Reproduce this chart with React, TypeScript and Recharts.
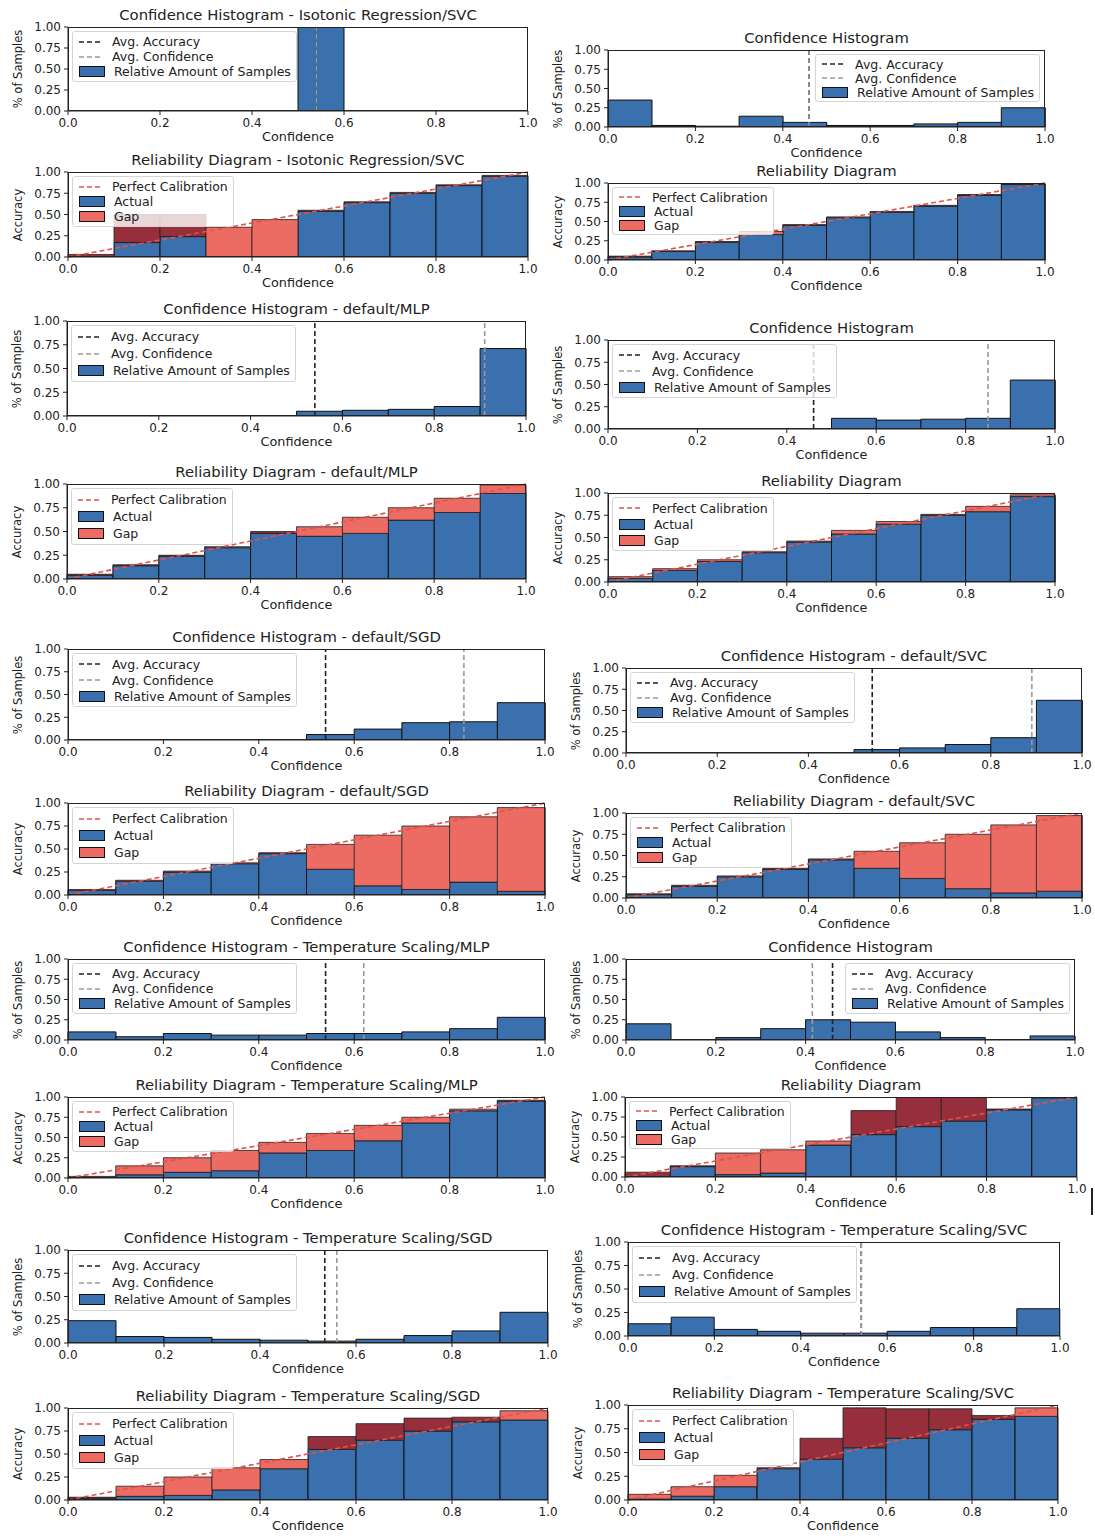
import React from "react";
import { ComposedChart, Bar, Cell, XAxis, YAxis, ReferenceLine } from "recharts";

// ---- shared axis data ----
const bins = ["0.0", "0.1", "0.2", "0.3", "0.4", "0.5", "0.6", "0.7", "0.8", "0.9"];
const binCenters = [0.05, 0.15, 0.25, 0.35, 0.45, 0.55, 0.65, 0.75, 0.85, 0.95];
const xTicks = [0, 0.2, 0.4, 0.6, 0.8, 1.0];
const yTicks = [0, 0.25, 0.5, 0.75, 1.0];

// ---- confidence histograms (relative amount of samples per bin) ----
const histIsoSvcSamples = [0, 0, 0, 0, 0, 1.0, 0, 0, 0, 0];
const histIsoSvcAcc = 0.54;
const histIsoSvcConf = 0.54;

const histPlain1Samples = [0.35, 0.02, 0.01, 0.14, 0.06, 0.02, 0.02, 0.04, 0.06, 0.25];
const histPlain1Acc = 0.46;
const histPlain1Conf = 0.46;

const histDefMlpSamples = [0, 0, 0, 0, 0, 0.05, 0.06, 0.07, 0.1, 0.71];
const histDefMlpAcc = 0.54;
const histDefMlpConf = 0.91;

const histPlain2Samples = [0, 0, 0, 0, 0, 0.12, 0.1, 0.11, 0.12, 0.55];
const histPlain2Acc = 0.46;
const histPlain2Conf = 0.85;

const histDefSgdSamples = [0, 0, 0, 0, 0, 0.06, 0.12, 0.19, 0.2, 0.41];
const histDefSgdAcc = 0.54;
const histDefSgdConf = 0.83;

const histDefSvcSamples = [0, 0, 0, 0, 0, 0.04, 0.06, 0.1, 0.18, 0.62];
const histDefSvcAcc = 0.54;
const histDefSvcConf = 0.89;

const histTsMlpSamples = [0.1, 0.04, 0.08, 0.06, 0.06, 0.08, 0.08, 0.1, 0.14, 0.28];
const histTsMlpAcc = 0.54;
const histTsMlpConf = 0.62;

const histPlain3Samples = [0.2, 0, 0.03, 0.14, 0.25, 0.22, 0.1, 0.03, 0, 0.05];
const histPlain3Acc = 0.46;
const histPlain3Conf = 0.415;

const histTsSgdSamples = [0.24, 0.07, 0.06, 0.04, 0.03, 0.02, 0.04, 0.08, 0.13, 0.33];
const histTsSgdAcc = 0.535;
const histTsSgdConf = 0.56;

const histTsSvcSamples = [0.13, 0.2, 0.07, 0.05, 0.03, 0.03, 0.05, 0.09, 0.09, 0.29];
const histTsSvcAcc = 0.54;
const histTsSvcConf = 0.54;

// ---- reliability diagrams (accuracy and mean confidence per bin) ----
const relIsoSvcAcc = [0.03, 0.5, 0.5, 0, 0, 0.54, 0.64, 0.75, 0.84, 0.95];
const relIsoSvcConf = [0.0, 0.17, 0.24, 0.35, 0.44, 0.55, 0.65, 0.76, 0.85, 0.96];

const relPlain1Acc = [0.05, 0.11, 0.23, 0.33, 0.45, 0.55, 0.62, 0.7, 0.85, 0.99];
const relPlain1Conf = [0.04, 0.12, 0.24, 0.37, 0.46, 0.56, 0.63, 0.71, 0.84, 0.98];

const relDefMlpAcc = [0.05, 0.15, 0.25, 0.33, 0.5, 0.45, 0.48, 0.62, 0.7, 0.9];
const relDefMlpConf = [0.04, 0.14, 0.24, 0.34, 0.48, 0.55, 0.65, 0.75, 0.85, 0.99];

const relPlain2Acc = [0.04, 0.13, 0.23, 0.33, 0.45, 0.54, 0.65, 0.75, 0.79, 0.96];
const relPlain2Conf = [0.06, 0.15, 0.25, 0.34, 0.46, 0.58, 0.68, 0.76, 0.85, 0.98];

const relDefSgdAcc = [0.05, 0.15, 0.25, 0.34, 0.45, 0.28, 0.1, 0.06, 0.14, 0.04];
const relDefSgdConf = [0.06, 0.16, 0.26, 0.35, 0.46, 0.55, 0.65, 0.75, 0.85, 0.95];

const relDefSvcAcc = [0.04, 0.14, 0.25, 0.34, 0.45, 0.35, 0.23, 0.11, 0.06, 0.08];
const relDefSvcConf = [0.05, 0.15, 0.26, 0.35, 0.46, 0.55, 0.65, 0.75, 0.86, 0.97];

const relTsMlpAcc = [0.01, 0.04, 0.07, 0.09, 0.31, 0.34, 0.46, 0.68, 0.83, 0.95];
const relTsMlpConf = [0.02, 0.15, 0.25, 0.34, 0.44, 0.55, 0.65, 0.75, 0.85, 0.96];

const relPlain3Acc = [0.06, 0.14, 0.03, 0.05, 0.4, 0.83, 1.0, 1.0, 0.85, 1.0];
const relPlain3Conf = [0.0, 0.13, 0.3, 0.34, 0.45, 0.53, 0.63, 0.7, 0.84, 0.99];

const relTsSgdAcc = [0.03, 0.04, 0.05, 0.11, 0.34, 0.69, 0.83, 0.89, 0.9, 0.87];
const relTsSgdConf = [0.02, 0.15, 0.25, 0.35, 0.44, 0.55, 0.65, 0.75, 0.85, 0.97];

const relTsSvcAcc = [0.01, 0.04, 0.14, 0.33, 0.65, 0.97, 0.96, 0.96, 0.89, 0.88];
const relTsSvcConf = [0.06, 0.14, 0.26, 0.34, 0.43, 0.55, 0.65, 0.74, 0.85, 0.97];

// ---- styling ----
const BLUE = "#3a70ad";
const SALMON = "#ec6b63";
const DARK_RED = "#962e3b";
const DIAG = "#e0534a";
const FONT = "'DejaVu Sans', 'Noto Sans', sans-serif";
const INK = "#222";

const L = 50; // space left of plot (y label + y ticks)
const R = 14;
const T = 9; // room above plot so the "1.00" tick label is not clipped
const B = 22; // x tick band

type LegendItem = { label: string; kind: "line" | "patch"; color: string };

const histLegend: LegendItem[] = [
  { label: "Avg. Accuracy", kind: "line", color: "#222" },
  { label: "Avg. Confidence", kind: "line", color: "#9a9a9a" },
  { label: "Relative Amount of Samples", kind: "patch", color: BLUE },
];
const relLegend: LegendItem[] = [
  { label: "Perfect Calibration", kind: "line", color: DIAG },
  { label: "Actual", kind: "patch", color: BLUE },
  { label: "Gap", kind: "patch", color: SALMON },
];

type Panel = {
  kind: "hist" | "rel";
  title: string;
  x0: number;
  y0: number;
  x1: number;
  y1: number;
  legend?: "left" | "right";
  samples?: number[];
  avgAcc?: number;
  avgConf?: number;
  acc?: number[];
  conf?: number[];
};

const panels: Panel[] = [
  { kind: "hist", title: "Confidence Histogram - Isotonic Regression/SVC", x0: 68, y0: 27, x1: 528, y1: 111, samples: histIsoSvcSamples, avgAcc: histIsoSvcAcc, avgConf: histIsoSvcConf },
  { kind: "hist", title: "Confidence Histogram", x0: 608, y0: 50, x1: 1045, y1: 127, legend: "right", samples: histPlain1Samples, avgAcc: histPlain1Acc, avgConf: histPlain1Conf },
  { kind: "rel", title: "Reliability Diagram - Isotonic Regression/SVC", x0: 68, y0: 172, x1: 528, y1: 257, acc: relIsoSvcAcc, conf: relIsoSvcConf },
  { kind: "rel", title: "Reliability Diagram", x0: 608, y0: 183, x1: 1045, y1: 260, acc: relPlain1Acc, conf: relPlain1Conf },
  { kind: "hist", title: "Confidence Histogram - default/MLP", x0: 67, y0: 321, x1: 526, y1: 416, samples: histDefMlpSamples, avgAcc: histDefMlpAcc, avgConf: histDefMlpConf },
  { kind: "hist", title: "Confidence Histogram", x0: 608, y0: 340, x1: 1055, y1: 429, samples: histPlain2Samples, avgAcc: histPlain2Acc, avgConf: histPlain2Conf },
  { kind: "rel", title: "Reliability Diagram - default/MLP", x0: 67, y0: 484, x1: 526, y1: 579, acc: relDefMlpAcc, conf: relDefMlpConf },
  { kind: "rel", title: "Reliability Diagram", x0: 608, y0: 493, x1: 1055, y1: 582, acc: relPlain2Acc, conf: relPlain2Conf },
  { kind: "hist", title: "Confidence Histogram - default/SGD", x0: 68, y0: 649, x1: 545, y1: 740, samples: histDefSgdSamples, avgAcc: histDefSgdAcc, avgConf: histDefSgdConf },
  { kind: "hist", title: "Confidence Histogram - default/SVC", x0: 626, y0: 668, x1: 1082, y1: 753, samples: histDefSvcSamples, avgAcc: histDefSvcAcc, avgConf: histDefSvcConf },
  { kind: "rel", title: "Reliability Diagram - default/SGD", x0: 68, y0: 803, x1: 545, y1: 895, acc: relDefSgdAcc, conf: relDefSgdConf },
  { kind: "rel", title: "Reliability Diagram - default/SVC", x0: 626, y0: 813, x1: 1082, y1: 898, acc: relDefSvcAcc, conf: relDefSvcConf },
  { kind: "hist", title: "Confidence Histogram - Temperature Scaling/MLP", x0: 68, y0: 959, x1: 545, y1: 1040, samples: histTsMlpSamples, avgAcc: histTsMlpAcc, avgConf: histTsMlpConf },
  { kind: "hist", title: "Confidence Histogram", x0: 626, y0: 959, x1: 1075, y1: 1040, legend: "right", samples: histPlain3Samples, avgAcc: histPlain3Acc, avgConf: histPlain3Conf },
  { kind: "rel", title: "Reliability Diagram - Temperature Scaling/MLP", x0: 68, y0: 1097, x1: 545, y1: 1178, acc: relTsMlpAcc, conf: relTsMlpConf },
  { kind: "rel", title: "Reliability Diagram", x0: 625, y0: 1097, x1: 1077, y1: 1177, acc: relPlain3Acc, conf: relPlain3Conf },
  { kind: "hist", title: "Confidence Histogram - Temperature Scaling/SGD", x0: 68, y0: 1250, x1: 548, y1: 1343, samples: histTsSgdSamples, avgAcc: histTsSgdAcc, avgConf: histTsSgdConf },
  { kind: "hist", title: "Confidence Histogram - Temperature Scaling/SVC", x0: 628, y0: 1242, x1: 1060, y1: 1336, samples: histTsSvcSamples, avgAcc: histTsSvcAcc, avgConf: histTsSvcConf },
  { kind: "rel", title: "Reliability Diagram - Temperature Scaling/SGD", x0: 68, y0: 1408, x1: 548, y1: 1500, acc: relTsSgdAcc, conf: relTsSgdConf },
  { kind: "rel", title: "Reliability Diagram - Temperature Scaling/SVC", x0: 628, y0: 1405, x1: 1058, y1: 1500, acc: relTsSvcAcc, conf: relTsSvcConf },
];

function LegendBox({ items, side, rowH }: { items: LegendItem[]; side: "left" | "right"; rowH: number }) {
  const pos: React.CSSProperties = side === "left" ? { left: L + 4 } : { right: R + 5 };
  return (
    <div
      style={{
        position: "absolute",
        top: T + 4,
        ...pos,
        background: "rgba(255,255,255,0.8)",
        border: "1px solid #d4d4d4",
        borderRadius: 3,
        padding: "2px 5px 2px 5px",
        fontFamily: FONT,
        fontSize: 12.5,
        color: INK,
        pointerEvents: "none",
      }}
    >
      {items.map((it) => (
        <div key={it.label} style={{ display: "flex", alignItems: "center", height: rowH, whiteSpace: "nowrap" }}>
          {it.kind === "line" ? (
            <svg width={26} height={10} style={{ marginRight: 8 }}>
              <line x1={1} y1={5} x2={25} y2={5} stroke={it.color} strokeWidth={1.6} strokeDasharray="5 3" />
            </svg>
          ) : (
            <div
              style={{
                width: 24,
                height: 9,
                background: it.color,
                border: "1px solid #111",
                marginRight: 9,
                marginLeft: 1,
              }}
            />
          )}
          <span>{it.label}</span>
        </div>
      ))}
    </div>
  );
}

function PanelChart({ p }: { p: Panel }) {
  const plotW = p.x1 - p.x0;
  const plotH = p.y1 - p.y0;
  const width = plotW + L + R;
  const height = plotH + T + B;
  const rowH = Math.round(plotH * 0.18);

  const rows = bins.map((b, i) => {
    if (p.kind === "hist") {
      return { bin: b, center: binCenters[i], value: p.samples![i] };
    }
    const a = p.acc![i];
    const c = p.conf![i];
    return { bin: b, center: binCenters[i], low: Math.min(a, c), gap: Math.abs(a - c), over: a > c };
  });

  const tickStyle = { fontSize: 12, fill: INK, fontFamily: FONT };

  return (
    <div style={{ position: "absolute", left: p.x0 - L, top: p.y0 - T, width, height: height + 40 }}>
      <div
        style={{
          position: "absolute",
          left: L - 80,
          width: plotW + 160,
          top: T - 21,
          textAlign: "center",
          fontFamily: FONT,
          fontSize: 14.8,
          color: INK,
          whiteSpace: "nowrap",
        }}
      >
        {p.title}
      </div>
      <div
        style={{
          position: "absolute",
          left: L - 50 - 40,
          width: 80,
          top: T + plotH / 2 - 7,
          textAlign: "center",
          transform: "rotate(-90deg)",
          fontFamily: FONT,
          fontSize: 11.5,
          color: INK,
          whiteSpace: "nowrap",
        }}
      >
        {p.kind === "hist" ? "% of Samples" : "Accuracy"}
      </div>
      <ComposedChart
        width={width}
        height={height}
        data={rows}
        margin={{ top: T, right: R, bottom: 0, left: L - 40 }}
        barCategoryGap={0}
        barGap={0}
      >
        <XAxis
          xAxisId="num"
          type="number"
          dataKey="center"
          domain={[0, 1]}
          allowDataOverflow
          ticks={xTicks}
          interval={0}
          tickFormatter={(v: number) => v.toFixed(1)}
          height={B}
          tickSize={4}
          tickMargin={3}
          stroke={INK}
          tick={tickStyle}
        />
        <XAxis xAxisId="bins" dataKey="bin" hide height={0} />
        <YAxis
          type="number"
          domain={[0, 1]}
          allowDataOverflow
          ticks={yTicks}
          interval={0}
          tickFormatter={(v: number) => v.toFixed(2)}
          width={40}
          tickSize={4}
          tickMargin={3}
          stroke={INK}
          tick={tickStyle}
        />
        {p.kind === "hist" ? (
          <Bar xAxisId="bins" dataKey="value" fill={BLUE} stroke="#111" strokeWidth={1} isAnimationActive={false} />
        ) : (
          <Bar xAxisId="bins" dataKey="low" stackId="s" fill={BLUE} stroke="#111" strokeWidth={1} isAnimationActive={false} />
        )}
        {p.kind === "rel" && (
          <Bar xAxisId="bins" dataKey="gap" stackId="s" stroke="#222" strokeWidth={0.8} isAnimationActive={false}>
            {rows.map((r: any) => (
              <Cell key={r.bin} fill={r.over ? DARK_RED : SALMON} />
            ))}
          </Bar>
        )}
        {p.kind === "rel" && (
          <ReferenceLine
            xAxisId="num"
            segment={[
              { x: 0, y: 0 },
              { x: 1, y: 1 },
            ]}
            stroke={DIAG}
            strokeWidth={1.6}
            strokeDasharray="5 3"
          />
        )}
        {p.kind === "hist" && (
          <ReferenceLine xAxisId="num" x={p.avgAcc} stroke="#222" strokeWidth={1.6} strokeDasharray="5 3" />
        )}
        {p.kind === "hist" && (
          <ReferenceLine xAxisId="num" x={p.avgConf} stroke="#9a9a9a" strokeWidth={1.6} strokeDasharray="5 3" />
        )}
      </ComposedChart>
      <div
        style={{
          position: "absolute",
          left: L,
          top: T,
          width: plotW,
          height: plotH,
          border: "1px solid #222",
          boxSizing: "border-box",
          pointerEvents: "none",
        }}
      />
      <LegendBox items={p.kind === "hist" ? histLegend : relLegend} side={p.legend ?? "left"} rowH={rowH} />
      <div
        style={{
          position: "absolute",
          left: L,
          width: plotW,
          top: T + plotH + 18,
          textAlign: "center",
          fontFamily: FONT,
          fontSize: 12.8,
          color: INK,
        }}
      >
        Confidence
      </div>
    </div>
  );
}

export default function App() {
  return (
    <div style={{ position: "absolute", left: 0, top: 0, width: 1095, height: 1536, background: "#fff", overflow: "hidden" }}>
      {panels.map((p) => (
        <PanelChart key={p.title + p.y0} p={p} />
      ))}
      <div style={{ position: "absolute", left: 1091, top: 1188, width: 2, height: 27, background: "#222" }} />
    </div>
  );
}
